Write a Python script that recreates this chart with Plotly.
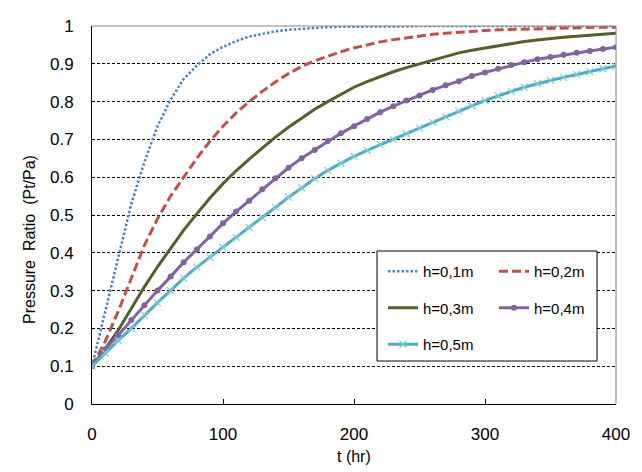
import plotly.graph_objects as go

t_hr = list(range(0, 401, 10))

h01 = [0.10, 0.245, 0.39, 0.53, 0.64, 0.735, 0.805, 0.86, 0.895, 0.925, 0.945,
       0.96, 0.972, 0.98, 0.986, 0.99, 0.993, 0.995, 0.997, 0.998, 0.998,
       0.999, 0.999, 0.999, 0.999, 1.0, 1.0, 1.0, 1.0, 1.0, 1.0,
       1.0, 1.0, 1.0, 1.0, 1.0, 1.0, 1.0, 1.0, 1.0, 1.0]
h02 = [0.10, 0.165, 0.245, 0.335, 0.42, 0.49, 0.55, 0.60, 0.65, 0.695, 0.735,
       0.77, 0.80, 0.827, 0.852, 0.874, 0.893, 0.908, 0.921, 0.932, 0.942,
       0.951, 0.958, 0.964, 0.969, 0.974, 0.978, 0.981, 0.984, 0.986, 0.988,
       0.99, 0.991, 0.992, 0.993, 0.994, 0.995, 0.996, 0.996, 0.997, 0.997]
h03 = [0.10, 0.145, 0.195, 0.252, 0.31, 0.363, 0.413, 0.46, 0.503, 0.545, 0.583,
       0.617, 0.648, 0.678, 0.706, 0.732, 0.757, 0.78, 0.80, 0.82, 0.838,
       0.853, 0.867, 0.879, 0.89, 0.90, 0.911, 0.921, 0.929, 0.936, 0.942,
       0.948, 0.954, 0.959, 0.963, 0.967, 0.97, 0.973, 0.976, 0.978, 0.981]
h04 = [0.10, 0.145, 0.182, 0.222, 0.261, 0.30, 0.337, 0.375, 0.409, 0.443, 0.478,
       0.509, 0.538, 0.568, 0.597, 0.625, 0.65, 0.672, 0.696, 0.716, 0.735,
       0.754, 0.772, 0.788, 0.803, 0.816, 0.831, 0.843, 0.854, 0.868, 0.877,
       0.887, 0.897, 0.904, 0.912, 0.918, 0.924, 0.929, 0.934, 0.939, 0.944]
h05 = [0.10, 0.135, 0.168, 0.20, 0.235, 0.268, 0.30, 0.333, 0.362, 0.388, 0.414,
       0.441, 0.467, 0.493, 0.52, 0.547, 0.572, 0.596, 0.618, 0.637, 0.655,
       0.671, 0.686, 0.70, 0.715, 0.73, 0.745, 0.76, 0.775, 0.789, 0.803,
       0.816, 0.827, 0.838, 0.848, 0.856, 0.864, 0.872, 0.879, 0.887, 0.894]

names = ["h=0,1m", "h=0,2m", "h=0,3m", "h=0,4m", "h=0,5m"]
y_ticks = [0, 0.1, 0.2, 0.3, 0.4, 0.5, 0.6, 0.7, 0.8, 0.9, 1]
y_ticktext = ["0", "0.1", "0.2", "0.3", "0.4", "0.5", "0.6", "0.7", "0.8", "0.9", "1"]
x_ticks = [0, 100, 200, 300, 400]

W, H = 642, 472
ML, MR, MT, MB = 92, 26, 26, 68
PW, PH = W - ML - MR, H - MT - MB

def px_x(p):
    return (p - ML) / PW

def px_y(p):
    return (H - MB - p) / PH

FONT = "Liberation Sans, Arial, sans-serif"

fig = go.Figure()
fig.add_trace(go.Scatter(x=t_hr, y=h01, name=names[0], mode="lines",
                         line=dict(color="#4F81BD", width=2.5, dash="2.5px,2px"),
                         legend="legend", legendgroup="a"))
fig.add_trace(go.Scatter(x=t_hr, y=h02, name=names[1], mode="lines",
                         line=dict(color="#C0504D", width=3, dash="9px,4px"),
                         legend="legend2", legendgroup="b"))
fig.add_trace(go.Scatter(x=t_hr, y=h03, name=names[2], mode="lines",
                         line=dict(color="#4F6228", width=3),
                         legend="legend", legendgroup="c"))
fig.add_trace(go.Scatter(x=t_hr, y=h04, name=names[3], mode="lines+markers",
                         line=dict(color="#8064A2", width=3),
                         marker=dict(symbol="circle", size=6, color="#8064A2"),
                         legend="legend2", legendgroup="d"))
fig.add_trace(go.Scatter(x=t_hr, y=h05, name=names[4], mode="lines+markers",
                         line=dict(color="#4BACC6", width=3),
                         marker=dict(symbol="x-thin", size=7, color="#4BACC6",
                                     line=dict(color="#7FCBDD", width=1.2)),
                         legend="legend", legendgroup="e"))

legend_common = dict(
    bgcolor="rgba(0,0,0,0)", borderwidth=0,
    font=dict(family=FONT, size=15, color="black"),
    tracegroupgap=14, yanchor="top", xanchor="left", orientation="v",
)

fig.update_layout(
    width=W, height=H,
    margin=dict(l=ML, r=MR, t=MT, b=MB),
    paper_bgcolor="white", plot_bgcolor="white",
    font=dict(family=FONT, size=17, color="black"),
    showlegend=True,
    legend=dict(x=px_x(383), y=px_y(255), **legend_common),
    legend2=dict(x=px_x(494), y=px_y(255), **legend_common),
    xaxis=dict(
        range=[0, 400], tickvals=x_ticks, ticks="inside", ticklen=5,
        tickcolor="black", showline=True, linecolor="black", linewidth=1,
        showgrid=False, zeroline=False, ticklabelstandoff=15,
        tickfont=dict(family=FONT, size=17, color="black"),
    ),
    yaxis=dict(
        range=[0, 1], tickvals=y_ticks, ticktext=y_ticktext, ticks="",
        showline=True, linecolor="black", linewidth=1,
        showgrid=True, gridcolor="black", gridwidth=1, griddash="3px,2px",
        zeroline=False, ticklabelstandoff=14,
        tickfont=dict(family=FONT, size=17, color="black"),
    ),
    shapes=[
        dict(type="line", xref="x domain", yref="y domain", x0=0, x1=1, y0=1, y1=1,
             line=dict(color="#868686", width=1)),
        dict(type="line", xref="x domain", yref="y domain", x0=1, x1=1, y0=0, y1=1,
             line=dict(color="#868686", width=1)),
        dict(type="rect", xref="paper", yref="paper", layer="above",
             x0=px_x(377), x1=px_x(597), y0=px_y(361), y1=px_y(251),
             fillcolor="white", line=dict(color="black", width=1)),
    ],
    annotations=[
        dict(text="Pressure\u00a0\u00a0Ratio\u00a0\u00a0(Pt/Pa)", textangle=-90,
             xref="paper", yref="paper", x=px_x(29), y=px_y(240),
             xanchor="center", yanchor="middle", showarrow=False,
             font=dict(family=FONT, size=16, color="black")),
        dict(text="t (hr)", xref="paper", yref="paper", x=px_x(354), y=px_y(456),
             xanchor="center", yanchor="middle", showarrow=False,
             font=dict(family=FONT, size=16, color="black")),
    ],
)

fig.write_html("out.html", config={"displayModeBar": False},
               post_script="document.body.style.margin='0';")
